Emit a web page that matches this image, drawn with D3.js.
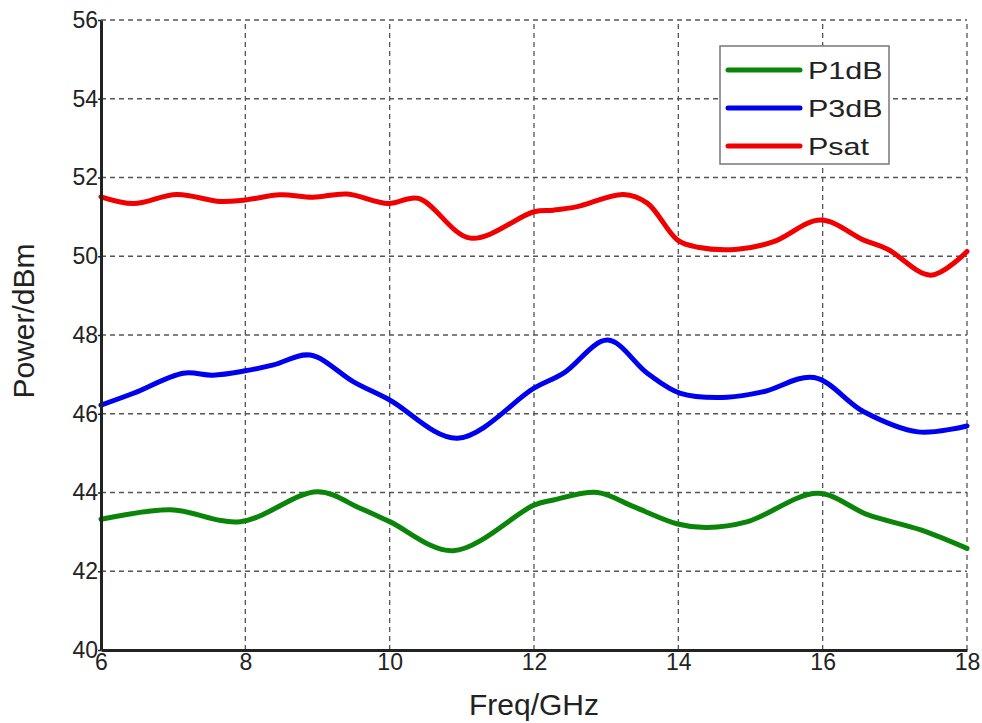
<!DOCTYPE html>
<html>
<head>
<meta charset="utf-8">
<script src="https://cdn.jsdelivr.net/npm/d3@7"></script>
<style>
  html, body { margin: 0; padding: 0; background: #fff; }
  svg { display: block; }
</style>
</head>
<body>
<div id="chart"></div>
<script>
// values
const p1dbFreq = [6.0, 6.96, 7.93, 9.0, 9.59, 10.0, 10.88, 12.0, 12.27, 12.88, 13.38, 13.99, 14.4, 14.96, 15.93, 16.63, 17.36, 18.0];
const p1dbValues = [43.32, 43.56, 43.26, 44.02, 43.6, 43.26, 42.52, 43.68, 43.81, 44.0, 43.64, 43.2, 43.11, 43.26, 43.98, 43.43, 43.05, 42.58];

const p3dbFreq = [6.0, 6.45, 7.14, 7.55, 8.0, 8.39, 8.9, 9.5, 10.0, 10.94, 12.0, 12.41, 13.02, 13.57, 14.03, 14.68, 15.18, 15.88, 16.57, 17.32, 18.0];
const p3dbValues = [46.22, 46.52, 47.03, 46.98, 47.09, 47.24, 47.49, 46.81, 46.35, 45.38, 46.65, 47.03, 47.87, 47.03, 46.52, 46.42, 46.56, 46.92, 46.05, 45.54, 45.69];

const psatFreq = [6.0, 6.45, 7.05, 7.65, 8.0, 8.48, 8.94, 9.41, 9.98, 10.4, 11.12, 12.0, 12.27, 12.6, 13.24, 13.57, 13.99, 14.27, 14.82, 15.32, 15.97, 16.57, 16.9, 17.5, 18.0];
const psatValues = [51.51, 51.34, 51.57, 51.39, 51.43, 51.56, 51.5, 51.58, 51.34, 51.47, 50.46, 51.13, 51.17, 51.26, 51.57, 51.35, 50.41, 50.23, 50.18, 50.37, 50.92, 50.41, 50.18, 49.52, 50.12];

const seriesNames = ["P1dB", "P3dB", "Psat"];
const seriesColors = ["#0a850a", "#0000f0", "#f00000"];
const xTicks = [6, 8, 10, 12, 14, 16, 18];
const yTicks = [40, 42, 44, 46, 48, 50, 52, 54, 56];

const width = 982, height = 723;
const margin = { top: 20, right: 15, bottom: 73, left: 101 };
const font = "'Liberation Sans', Arial, sans-serif";

const series = [
    { name: seriesNames[0], color: seriesColors[0], points: p1dbFreq.map((f, i) => ({ f, v: p1dbValues[i] })) },
    { name: seriesNames[1], color: seriesColors[1], points: p3dbFreq.map((f, i) => ({ f, v: p3dbValues[i] })) },
    { name: seriesNames[2], color: seriesColors[2], points: psatFreq.map((f, i) => ({ f, v: psatValues[i] })) }
];

const svg = d3.select("#chart")
    .append("svg")
    .attr("width", width)
    .attr("height", height)
    .style("font-family", font);

const x = d3.scaleLinear().domain([6, 18]).range([margin.left, width - margin.right]);
const y = d3.scaleLinear().domain([40, 56]).range([height - margin.bottom, margin.top]);

// dashed grid
const grid = svg.append("g").attr("stroke", "#555").attr("stroke-width", 1.3).attr("stroke-dasharray", "5,4");
grid.selectAll(".gx")
    .data(xTicks.slice(1))
    .enter().append("line")
    .attr("x1", d => x(d)).attr("x2", d => x(d))
    .attr("y1", y(40)).attr("y2", y(56));
grid.selectAll(".gy")
    .data(yTicks.slice(1))
    .enter().append("line")
    .attr("x1", x(6)).attr("x2", x(18))
    .attr("y1", d => y(d)).attr("y2", d => y(d));

// lines
const line = d3.line()
    .x(d => x(d.f))
    .y(d => y(d.v))
    .curve(d3.curveCatmullRom.alpha(0.5));

svg.selectAll(".series")
    .data(series)
    .enter().append("path")
    .attr("class", "series")
    .attr("fill", "none")
    .attr("stroke", d => d.color)
    .attr("stroke-width", 5)
    .attr("stroke-linejoin", "round")
    .attr("stroke-linecap", "round")
    .attr("d", d => line(d.points));

// axes
const xAxis = svg.append("g")
    .attr("transform", `translate(0,${y(40)})`)
    .call(d3.axisBottom(x).tickValues(xTicks).tickSize(0).tickSizeOuter(0).tickPadding(4));
const yAxis = svg.append("g")
    .attr("transform", `translate(${x(6)},0)`)
    .call(d3.axisLeft(y).tickValues(yTicks).tickSize(3).tickSizeOuter(0).tickPadding(0));

[xAxis, yAxis].forEach(a => {
    a.select(".domain").attr("stroke", "#222").attr("stroke-width", 3);
    a.selectAll(".tick line").attr("stroke", "#222").attr("stroke-width", 1.5);
    a.selectAll("text")
        .style("font-family", font)
        .style("font-size", "23px")
        .attr("fill", "#222");
});

// legend
const legend = svg.append("g").attr("transform", "translate(720,46)");
legend.append("rect")
    .attr("width", 169).attr("height", 118)
    .attr("fill", "#fff")
    .attr("stroke", "#777")
    .attr("stroke-width", 1.5);
const items = legend.selectAll(".item")
    .data(series)
    .enter().append("g")
    .attr("transform", (d, i) => `translate(0,${24 + i * 38})`);
items.append("line")
    .attr("x1", 8).attr("x2", 80)
    .attr("stroke", d => d.color)
    .attr("stroke-width", 5)
    .attr("stroke-linecap", "round");
items.append("text")
    .attr("transform", "translate(88,0) scale(1.27,1)")
    .attr("dy", "0.36em")
    .style("font-size", "24px")
    .attr("fill", "#222")
    .text(d => d.name);

// axis titles
svg.append("text")
    .attr("x", 534)
    .attr("y", 715)
    .attr("text-anchor", "middle")
    .style("font-size", "30px")
    .attr("fill", "#222")
    .text("Freq/GHz");

svg.append("text")
    .attr("transform", `translate(34,321) rotate(-90)`)
    .attr("text-anchor", "middle")
    .style("font-size", "30px")
    .attr("fill", "#222")
    .text("Power/dBm");
</script>
</body>
</html>
